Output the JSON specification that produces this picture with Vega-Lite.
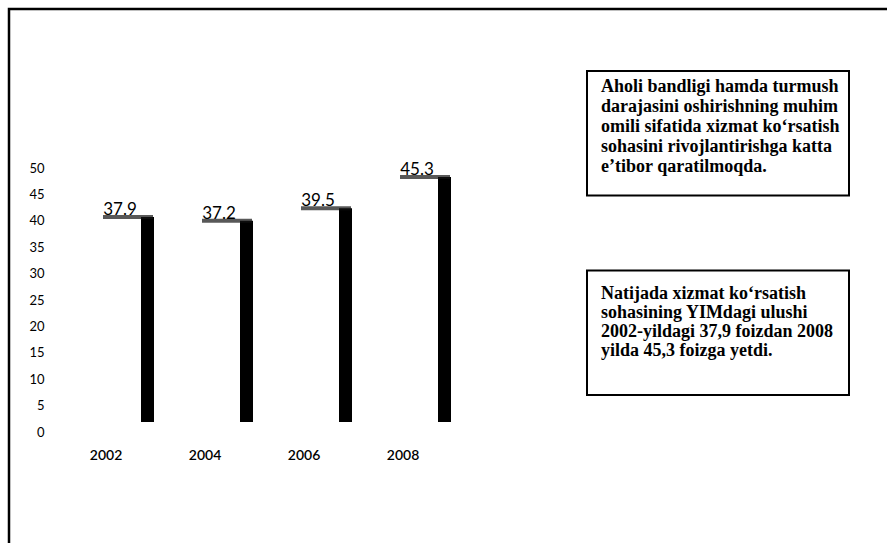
{
  "$schema": "https://vega.github.io/schema/vega-lite/v6.json",
  "width": 883,
  "height": 539,
  "autosize": {"type": "none"},
  "padding": {"left": 9, "top": 9, "right": -5, "bottom": -5},
  "background": "white",
  "config": {"view": {"stroke": "black", "strokeWidth": 2.5}, "font": "Lato"},
  "datasets": {
    "bars": [
      {"year": "2002", "value": 37.9},
      {"year": "2004", "value": 37.2},
      {"year": "2006", "value": 39.5},
      {"year": "2008", "value": 45.3}
    ],
    "boxes": [
      {"box": "A", "col": "c", "lines": ["Aholi bandligi hamda turmush", "darajasini oshirishning muhim", "omili sifatida xizmat ko‘rsatish", "sohasini rivojlantirishga katta", "e’tibor qaratilmoqda."]},
      {"box": "B", "col": "c", "lines": ["Natijada xizmat ko‘rsatish", "sohasining YIMdagi ulushi", "2002-yildagi 37,9 foizdan 2008", "yilda 45,3 foizga yetdi."]}
    ]
  },
  "layer": [
    {
      "data": {"name": "bars"},
      "encoding": {
        "x": {"field": "year", "type": "ordinal",
          "scale": {"type": "band", "domain": ["2002", "2004", "2006", "2008"], "range": [63.5, 459.5], "paddingInner": 0, "paddingOuter": 0},
          "axis": {"orient": "bottom", "offset": -100, "domain": false, "ticks": false, "grid": false, "labelPadding": 0, "labelOffset": -16, "labelFontSize": 14, "labelFontWeight": 600, "labelColor": "black", "labelFont": "Lato", "labelAngle": 0, "title": null}},
        "y": {"field": "value", "type": "quantitative",
          "scale": {"domain": [0, 50], "range": [413, 142.5], "nice": false},
          "axis": null}
      },
      "layer": [
        {"mark": {"type": "bar", "color": "black", "width": 13, "xOffset": 25.5}},
        {"mark": {"type": "tick", "orient": "horizontal", "color": "#111111", "size": 50, "thickness": 4, "xOffset": 6}},
        {"mark": {"type": "text", "font": "Lato", "fontSize": 17, "baseline": "alphabetic", "dy": -2, "xOffset": -2, "color": "black"},
          "encoding": {"text": {"field": "value", "type": "quantitative", "format": ".1f"}}}
      ]
    },
    {
      "data": {"name": "bars"},
      "mark": {"type": "rule", "opacity": 0},
      "encoding": {
        "y": {"field": "value", "type": "quantitative",
          "scale": {"domain": [0, 50], "range": [423, 159], "nice": false},
          "axis": {"orient": "left", "values": [0, 5, 10, 15, 20, 25, 30, 35, 40, 45, 50], "offset": -35, "domain": false, "ticks": false, "grid": false, "labelPadding": 0, "labelFontSize": 13, "labelFont": "Lato", "labelColor": "black", "title": null}}
      }
    },
    {
      "data": {"name": "boxes"},
      "encoding": {
        "x": {"field": "col", "type": "nominal", "scale": {"type": "band", "range": [578, 840], "paddingInner": 0, "paddingOuter": 0}, "axis": null},
        "y": {"field": "box", "type": "nominal", "scale": {"type": "band", "range": [62, 386], "paddingInner": 0.376, "paddingOuter": 0}, "axis": null}
      },
      "layer": [
        {"mark": {"type": "rect", "fill": "white", "stroke": "black", "strokeWidth": 2}},
        {"transform": [{"filter": "datum.box === 'A'"}],
          "mark": {"type": "text", "font": "Liberation Serif", "fontWeight": "bold", "fontSize": 18, "align": "left", "baseline": "middle", "lineHeight": 20, "dx": 14, "dy": 16, "color": "black"},
          "encoding": {"x": {"field": "col", "type": "nominal", "bandPosition": 0}, "y": {"field": "box", "type": "nominal", "bandPosition": 0}, "text": {"field": "lines", "type": "nominal"}}},
        {"transform": [{"filter": "datum.box === 'B'"}],
          "mark": {"type": "text", "font": "Liberation Serif", "fontWeight": "bold", "fontSize": 18, "align": "left", "baseline": "middle", "lineHeight": 19, "dx": 14, "dy": 23, "color": "black"},
          "encoding": {"x": {"field": "col", "type": "nominal", "bandPosition": 0}, "y": {"field": "box", "type": "nominal", "bandPosition": 0}, "text": {"field": "lines", "type": "nominal"}}}
      ]
    }
  ],
  "resolve": {"scale": {"x": "independent", "y": "independent"}, "axis": {"x": "independent", "y": "independent"}}
}
